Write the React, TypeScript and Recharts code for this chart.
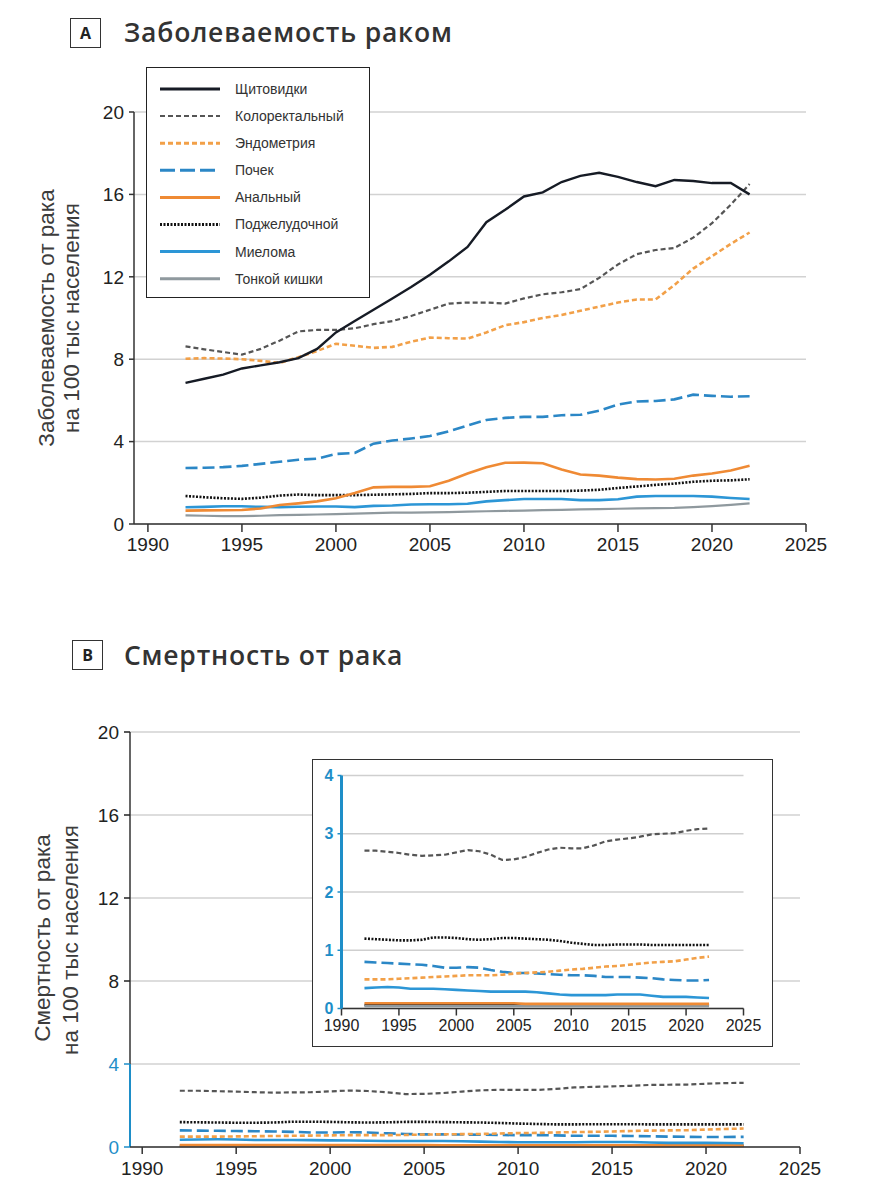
import React from "react";
import { LineChart, Line, XAxis, YAxis, CartesianGrid, ReferenceLine } from "recharts";

// years 1992..2022
const years = [1992, 1993, 1994, 1995, 1996, 1997, 1998, 1999, 2000, 2001, 2002, 2003, 2004, 2005, 2006, 2007, 2008, 2009, 2010, 2011, 2012, 2013, 2014, 2015, 2016, 2017, 2018, 2019, 2020, 2021, 2022];

// incidence, per 100k
const thyroidInc = [6.85, 7.05, 7.25, 7.55, 7.7, 7.85, 8.05, 8.5, 9.3, 9.85, 10.4, 10.95, 11.5, 12.1, 12.75, 13.45, 14.65, 15.25, 15.9, 16.1, 16.6, 16.9, 17.05, 16.85, 16.6, 16.4, 16.7, 16.65, 16.55, 16.55, 16.0];
const colorectalInc = [8.62, 8.48, 8.35, 8.22, 8.5, 8.9, 9.35, 9.42, 9.42, 9.5, 9.7, 9.85, 10.1, 10.4, 10.7, 10.75, 10.75, 10.7, 10.95, 11.15, 11.25, 11.4, 11.95, 12.6, 13.1, 13.3, 13.4, 13.9, 14.6, 15.5, 16.5];
const endometrialInc = [8.02, 8.05, 8.03, 8.0, 7.92, 7.82, 8.1, 8.4, 8.75, 8.65, 8.55, 8.6, 8.85, 9.05, 9.02, 9.0, 9.3, 9.65, 9.8, 10.0, 10.15, 10.35, 10.55, 10.75, 10.9, 10.9, 11.6, 12.4, 13.0, 13.6, 14.15];
const kidneyInc = [2.72, 2.73, 2.76, 2.82, 2.92, 3.02, 3.12, 3.17, 3.4, 3.45, 3.9, 4.05, 4.15, 4.27, 4.5, 4.78, 5.05, 5.15, 5.2, 5.2, 5.28, 5.3, 5.5, 5.8, 5.95, 5.97, 6.05, 6.28, 6.22, 6.18, 6.2];
const analInc = [0.65, 0.66, 0.67, 0.68, 0.75, 0.92, 1.0, 1.1, 1.25, 1.5, 1.78, 1.8, 1.8, 1.83, 2.1, 2.45, 2.75, 2.97, 2.98, 2.95, 2.65, 2.4, 2.35, 2.25, 2.18, 2.16, 2.2, 2.35, 2.45, 2.6, 2.83];
const pancreasInc = [1.36, 1.3, 1.25, 1.22, 1.28, 1.38, 1.43, 1.4, 1.4, 1.4, 1.42, 1.44, 1.46, 1.5, 1.5, 1.52, 1.56, 1.6, 1.6, 1.6, 1.6, 1.62, 1.66, 1.75, 1.82, 1.9, 1.96, 2.05, 2.1, 2.12, 2.17];
const myelomaInc = [0.81, 0.83, 0.86, 0.86, 0.83, 0.82, 0.84, 0.85, 0.85, 0.82, 0.88, 0.9, 0.95, 0.96, 0.96, 0.98, 1.1, 1.16, 1.21, 1.21, 1.21, 1.16, 1.16, 1.2, 1.33, 1.36, 1.36, 1.36, 1.33, 1.26, 1.21];
const smallIntInc = [0.42, 0.4, 0.38, 0.38, 0.4, 0.43, 0.44, 0.46, 0.48, 0.5, 0.53, 0.55, 0.55, 0.56, 0.58, 0.6, 0.62, 0.64, 0.65, 0.67, 0.69, 0.71, 0.72, 0.74, 0.76, 0.77, 0.78, 0.82, 0.87, 0.93, 1.0];

// mortality, per 100k
const thyroidMort = [0.06, 0.06, 0.06, 0.06, 0.06, 0.06, 0.06, 0.06, 0.06, 0.06, 0.06, 0.06, 0.06, 0.06, 0.06, 0.06, 0.06, 0.06, 0.06, 0.06, 0.06, 0.06, 0.06, 0.06, 0.06, 0.06, 0.06, 0.06, 0.06, 0.06, 0.06];
const colorectalMort = [2.71, 2.71, 2.69, 2.67, 2.64, 2.62, 2.63, 2.64, 2.68, 2.72, 2.7, 2.64, 2.55, 2.56, 2.6, 2.67, 2.73, 2.76, 2.75, 2.75, 2.8, 2.87, 2.9, 2.92, 2.95, 2.99, 3.0, 3.01, 3.05, 3.08, 3.09];
const endometrialMort = [0.5, 0.5, 0.5, 0.51, 0.52, 0.53, 0.54, 0.55, 0.56, 0.57, 0.57, 0.57, 0.58, 0.6, 0.61, 0.62, 0.63, 0.65, 0.67, 0.68, 0.7, 0.72, 0.73, 0.75, 0.77, 0.79, 0.8, 0.81, 0.84, 0.87, 0.89];
const kidneyMort = [0.8, 0.79, 0.78, 0.77, 0.76, 0.75, 0.73, 0.7, 0.7, 0.71, 0.7, 0.66, 0.63, 0.61, 0.61, 0.6, 0.59, 0.58, 0.57, 0.57, 0.56, 0.54, 0.54, 0.54, 0.53, 0.52, 0.5, 0.49, 0.48, 0.48, 0.49];
const analMort = [0.09, 0.09, 0.09, 0.09, 0.09, 0.09, 0.09, 0.09, 0.09, 0.09, 0.09, 0.09, 0.09, 0.09, 0.08, 0.08, 0.08, 0.08, 0.08, 0.08, 0.08, 0.08, 0.08, 0.08, 0.08, 0.08, 0.08, 0.08, 0.08, 0.08, 0.08];
const pancreasMort = [1.2, 1.19, 1.18, 1.17, 1.17, 1.18, 1.22, 1.22, 1.21, 1.19, 1.18, 1.19, 1.21, 1.21, 1.2, 1.19, 1.18, 1.16, 1.13, 1.11, 1.09, 1.09, 1.1, 1.1, 1.1, 1.09, 1.09, 1.09, 1.09, 1.09, 1.09];
const myelomaMort = [0.35, 0.36, 0.37, 0.36, 0.34, 0.34, 0.34, 0.33, 0.32, 0.31, 0.3, 0.29, 0.29, 0.29, 0.29, 0.28, 0.26, 0.24, 0.23, 0.23, 0.23, 0.23, 0.24, 0.24, 0.24, 0.22, 0.2, 0.2, 0.2, 0.19, 0.18];
const smallIntMort = [0.04, 0.04, 0.04, 0.04, 0.04, 0.04, 0.04, 0.04, 0.04, 0.04, 0.04, 0.04, 0.04, 0.04, 0.04, 0.04, 0.04, 0.04, 0.04, 0.04, 0.04, 0.04, 0.04, 0.04, 0.04, 0.04, 0.04, 0.04, 0.04, 0.04, 0.04];

const xTicks = [1990, 1995, 2000, 2005, 2010, 2015, 2020, 2025];
const yTicks = [0, 4, 8, 12, 16, 20];
const insetYTicks = [0, 1, 2, 3, 4];

const series = [
  { key: "thyroid", name: "Щитовидки", color: "#161b25", dash: undefined, width: 2.4 },
  { key: "colorectal", name: "Колоректальный", color: "#555555", dash: "5 3", width: 2.2 },
  { key: "endometrial", name: "Эндометрия", color: "#f2a048", dash: "5 3", width: 2.6 },
  { key: "kidney", name: "Почек", color: "#2b87c6", dash: "12 5", width: 2.6 },
  { key: "anal", name: "Анальный", color: "#ef8a34", dash: undefined, width: 2.6 },
  { key: "pancreas", name: "Поджелудочной", color: "#111111", dash: "2 1.5", width: 2.6 },
  { key: "myeloma", name: "Миелома", color: "#2c96d6", dash: undefined, width: 2.6 },
  { key: "smallInt", name: "Тонкой кишки", color: "#8f999e", dash: undefined, width: 2.2 },
];
const incOrder = ["smallInt", "myeloma", "pancreas", "anal", "kidney", "endometrial", "colorectal", "thyroid"];
const mortOrder = ["thyroid", "smallInt", "anal", "myeloma", "kidney", "endometrial", "pancreas", "colorectal"];

const incRows = years.map((year, i) => ({
  year,
  thyroid: thyroidInc[i],
  colorectal: colorectalInc[i],
  endometrial: endometrialInc[i],
  kidney: kidneyInc[i],
  anal: analInc[i],
  pancreas: pancreasInc[i],
  myeloma: myelomaInc[i],
  smallInt: smallIntInc[i],
}));
const mortRows = years.map((year, i) => ({
  year,
  thyroid: thyroidMort[i],
  colorectal: colorectalMort[i],
  endometrial: endometrialMort[i],
  kidney: kidneyMort[i],
  anal: analMort[i],
  pancreas: pancreasMort[i],
  myeloma: myelomaMort[i],
  smallInt: smallIntMort[i],
}));

const FONT = "'Liberation Sans', Arial, sans-serif";
const TITLE_FONT = "'Open Sans', 'Noto Sans', sans-serif";
const BLUE = "#1e8ec8";
const INK = "#222";

function lines(order: string[]) {
  return order.map((k) => {
    const s = series.find((x) => x.key === k)!;
    return (
      <Line key={k} type="linear" dataKey={k} name={s.name} stroke={s.color} strokeWidth={s.width}
        strokeDasharray={s.dash} dot={false} activeDot={false} isAnimationActive={false} />
    );
  });
}

/* eslint-disable @typescript-eslint/no-explicit-any */
function BTick({ x, y, payload }: any) {
  const c = payload.value <= 4 ? BLUE : INK;
  return (
    <g>
      <line x1={x + 5} x2={x + 11} y1={y} y2={y} stroke={c} strokeWidth={1.5} />
      <text x={x} y={y} dy="0.35em" textAnchor="end" fill={c} fontSize={19} fontFamily={FONT}>{payload.value}</text>
    </g>
  );
}
/* eslint-enable @typescript-eslint/no-explicit-any */

function PanelBox({ letter, left, top }: { letter: string; left: number; top: number }) {
  return (
    <div style={{ position: "absolute", left, top, width: 31, height: 30, boxSizing: "border-box", border: "1.5px solid #333",
      display: "flex", alignItems: "center", justifyContent: "center", fontFamily: TITLE_FONT, fontWeight: 700, fontSize: 16, color: "#222" }}>
      {letter}
    </div>
  );
}

function Title({ text, left, top }: { text: string; left: number; top: number }) {
  return (
    <div style={{ position: "absolute", left, top, fontFamily: TITLE_FONT, fontWeight: 600, fontSize: 26.5, letterSpacing: 0.8,
      color: "#333", whiteSpace: "nowrap", lineHeight: "30px" }}>
      {text}
    </div>
  );
}

function Legend() {
  return (
    <div style={{ position: "absolute", left: 146, top: 67, width: 224, height: 231, boxSizing: "border-box", border: "1.5px solid #222", background: "#fff" }}>
      <svg width={221} height={228} style={{ position: "absolute", left: 0, top: 0 }}>
        {series.map((s, i) => {
          const cy = 21 + i * 27.1;
          return (
            <g key={s.key}>
              <line x1={13} x2={73} y1={cy} y2={cy} stroke={s.color} strokeWidth={s.key === "colorectal" ? 2 : 3}
                strokeDasharray={s.key === "kidney" ? "15 5" : s.dash} />
              <text x={88} y={cy} dy="0.35em" fontSize={14} fontFamily={FONT} fill="#333">{s.name}</text>
            </g>
          );
        })}
      </svg>
    </div>
  );
}

export default function App() {
  return (
    <div style={{ position: "absolute", left: 0, top: 0, width: 889, height: 1200, background: "#fff", overflow: "hidden" }}>
      <svg width={889} height={1200} style={{ position: "absolute", left: 0, top: 0 }}>
        <g fontFamily={FONT} fontSize={22.5} fill="#3c3c3c" textAnchor="middle">
          <text transform="translate(46,318) rotate(-90)" dominantBaseline="central">Заболеваемость от рака</text>
          <text transform="translate(71,318) rotate(-90)" dominantBaseline="central">на 100 тыс населения</text>
          <text transform="translate(42,938) rotate(-90)" dominantBaseline="central">Смертность от рака</text>
          <text transform="translate(70,940) rotate(-90)" dominantBaseline="central">на 100 тыс населения</text>
        </g>
      </svg>

      <PanelBox letter="A" left={70} top={18} />
      <Title text="Заболеваемость раком" left={124} top={17} />
      <PanelBox letter="B" left={72} top={640} />
      <Title text="Смертность от рака" left={124} top={640} />

      {/* panel A */}
      <div style={{ position: "absolute", left: 0, top: 0 }}>
        <LineChart width={889} height={570} data={incRows} margin={{ top: 112, right: 83, left: 94, bottom: 6 }}>
          <CartesianGrid horizontal vertical={false} stroke="#d2d2d2" strokeWidth={1.5} />
          <XAxis type="number" dataKey="year" domain={[1989.26, 2025]} ticks={xTicks} allowDataOverflow height={40}
            tickSize={8} tickMargin={6} axisLine={{ stroke: "#333", strokeWidth: 1.5 }} tickLine={{ stroke: "#333", strokeWidth: 1.5 }}
            tick={{ fill: INK, fontSize: 19, fontFamily: FONT }} interval={0} />
          <YAxis type="number" domain={[0, 20]} ticks={yTicks} width={40} tickSize={5} tickMargin={5} interval={0}
            axisLine={{ stroke: "#333", strokeWidth: 1.5 }} tickLine={{ stroke: "#333", strokeWidth: 1.5 }}
            tick={{ fill: INK, fontSize: 19, fontFamily: FONT }} />
          {lines(incOrder)}
        </LineChart>
      </div>
      <Legend />

      {/* panel B */}
      <div style={{ position: "absolute", left: 0, top: 600 }}>
        <LineChart width={889} height={600} data={mortRows} margin={{ top: 132, right: 89, left: 90, bottom: 13 }}>
          <CartesianGrid horizontal vertical={false} stroke="#d2d2d2" strokeWidth={1.5} />
          <XAxis type="number" dataKey="year" domain={[1989.35, 2025]} ticks={xTicks} allowDataOverflow height={40}
            tickSize={7} tickMargin={8} axisLine={{ stroke: "#333", strokeWidth: 1.5 }} tickLine={{ stroke: "#333", strokeWidth: 1.5 }}
            tick={{ fill: INK, fontSize: 19, fontFamily: FONT }} interval={0} />
          <YAxis type="number" domain={[0, 20]} ticks={yTicks} width={40} tickSize={6} tickMargin={5} interval={0}
            axisLine={false} tickLine={{ stroke: "none" }} tick={<BTick />} />
          <ReferenceLine segment={[{ x: 1989.35, y: 4 }, { x: 1989.35, y: 20 }]} stroke="#333" strokeWidth={1.5} ifOverflow="visible" />
          <ReferenceLine segment={[{ x: 1989.35, y: 0 }, { x: 1989.35, y: 4 }]} stroke={BLUE} strokeWidth={2} ifOverflow="visible" />
          {lines(mortOrder)}
        </LineChart>
      </div>

      {/* inset, mortality on 0-4 scale */}
      <div style={{ position: "absolute", left: 312, top: 759, width: 461, height: 288, boxSizing: "border-box", border: "1.5px solid #333", background: "#fff" }}>
        <LineChart width={458} height={285} data={mortRows} margin={{ top: 15.5, right: 27.5, left: 3.5, bottom: 6.5 }}>
          <CartesianGrid horizontal vertical={false} stroke="#cfcfcf" strokeWidth={1.5} />
          <XAxis type="number" dataKey="year" domain={[1990, 2025]} ticks={xTicks} allowDataOverflow height={30}
            tickSize={7} tickMargin={4} axisLine={{ stroke: "#333", strokeWidth: 1.5 }} tickLine={{ stroke: "#333", strokeWidth: 1.5 }}
            tick={{ fill: INK, fontSize: 16, fontFamily: FONT }} interval={0} />
          <YAxis type="number" domain={[0, 4]} ticks={insetYTicks} width={25} tickSize={4} tickMargin={4} interval={0}
            axisLine={{ stroke: BLUE, strokeWidth: 3 }} tickLine={{ stroke: BLUE, strokeWidth: 1.5 }}
            tick={{ fill: BLUE, fontSize: 16, fontWeight: 700, fontFamily: FONT }} />
          {lines(mortOrder)}
        </LineChart>
      </div>
    </div>
  );
}
